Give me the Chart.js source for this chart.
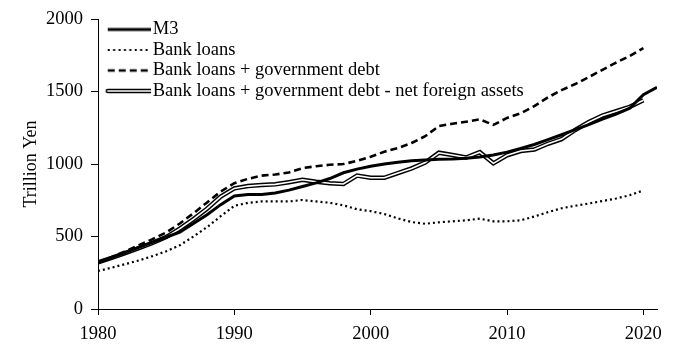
<!DOCTYPE html>
<html>
<head>
<meta charset="utf-8">
<script src="https://cdn.jsdelivr.net/npm/chart.js@4.4.1/dist/chart.umd.min.js"></script>
<style>
  html, body { margin: 0; padding: 0; background: #fff; }
  #wrap { width: 693px; height: 351px; }
</style>
</head>
<body>
<div id="wrap"><canvas id="chart"></canvas></div>
<script>
const years = [1980, 1981, 1982, 1983, 1984, 1985, 1986, 1987, 1988, 1989,
  1990, 1991, 1992, 1993, 1994, 1995, 1996, 1997, 1998, 1999,
  2000, 2001, 2002, 2003, 2004, 2005, 2006, 2007, 2008, 2009,
  2010, 2011, 2012, 2013, 2014, 2015, 2016, 2017, 2018, 2019,
  2020, 2021];

// trillion yen
const m3 = [320, 355, 390, 425, 460, 495, 530, 590, 650, 720,
  780, 790, 790, 800, 820, 845, 870, 900, 940, 965,
  985, 1000, 1012, 1022, 1028, 1033, 1035, 1040, 1048, 1062,
  1082, 1108, 1135, 1168, 1202, 1238, 1272, 1310, 1345, 1385,
  1478, 1530];

const bankLoans = [262, 285, 310, 335, 365, 398, 440, 500, 565, 640,
  712, 732, 742, 742, 742, 752, 742, 733, 715, 688,
  675, 655, 625, 600, 588, 598, 605, 612, 623, 605,
  605, 612, 638, 668, 695, 712, 728, 745, 762, 785,
  818];

const loansGov = [322, 358, 398, 440, 482, 528, 590, 660, 735, 810,
  868, 898, 920, 928, 942, 972, 985, 995, 1000, 1022,
  1050, 1085, 1110, 1145, 1192, 1262, 1278, 1292, 1308, 1270,
  1318, 1350, 1400, 1460, 1510, 1552, 1600, 1650, 1700, 1745,
  1800];

const loansGovNfa = [322, 352, 386, 420, 456, 496, 555, 620, 692, 775,
  832, 848, 855, 860, 875, 892, 878, 868, 862, 920,
  905, 905, 938, 970, 1010, 1078, 1062, 1045, 1082, 1005,
  1060, 1090, 1100, 1140, 1172, 1235, 1290, 1335, 1365, 1395,
  1440];

const seriesNames = [
  "M3",
  "Bank loans",
  "Bank loans + government debt",
  "Bank loans + government debt - net foreign assets"
];

const xTicks = [1980, 1990, 2000, 2010, 2020];
const yTicks = [0, 500, 1000, 1500, 2000];

const serif = "'Liberation Serif', 'Times New Roman', serif";

function pts(vals) {
  return vals.map((v, i) => ({ x: years[i], y: v }));
}

// little canvases used as legend keys
function key(draw) {
  const c = document.createElement("canvas");
  c.width = 58;
  c.height = 10;
  const g = c.getContext("2d");
  g.strokeStyle = "#000";
  draw(g);
  return c;
}
function seg(g) { g.beginPath(); g.moveTo(15, 5); g.lineTo(58, 5); g.stroke(); }
const keySolid = key(g => { g.lineWidth = 3; seg(g); });
const keyDot = key(g => { g.lineWidth = 2; g.setLineDash([2, 3.4]); seg(g); });
const keyDash = key(g => { g.lineWidth = 2.6; g.setLineDash([7, 4]); seg(g); });
const keyDouble = key(g => {
  g.lineWidth = 4.5; g.lineCap = "round"; seg(g);
  g.strokeStyle = "#fff"; g.lineWidth = 1.6; seg(g);
});

const base = { pointRadius: 0, tension: 0, fill: false, borderColor: "#000", backgroundColor: "#000" };

new Chart(document.getElementById("chart"), {
  type: "line",
  data: {
    datasets: [
      { ...base, label: seriesNames[0], data: pts(m3), borderWidth: 3, pointStyle: keySolid },
      { ...base, label: seriesNames[1], data: pts(bankLoans), borderWidth: 2.2, borderDash: [2, 3], pointStyle: keyDot },
      { ...base, label: seriesNames[2], data: pts(loansGov), borderWidth: 2.6, borderDash: [7, 4], pointStyle: keyDash },
      { ...base, label: "inner", data: pts(loansGovNfa), borderWidth: 1.6, borderColor: "#fff", pointStyle: keyDouble },
      { ...base, label: seriesNames[3], data: pts(loansGovNfa), borderWidth: 4.5, pointStyle: keyDouble }
    ]
  },
  options: {
    responsive: true,
    maintainAspectRatio: false,
    animation: false,
    layout: { padding: { left: 16, right: 36, top: 17, bottom: 0 } },
    plugins: {
      legend: {
        position: "chartArea",
        align: "start",
        // empty title just pushes the keys down inside the plot
        title: { display: true, text: " ", font: { size: 10, lineHeight: 1 }, padding: { top: 0, bottom: 8.2 } },
        labels: {
          usePointStyle: true,
          pointStyleWidth: 43.45,
          padding: 2,
          color: "#000",
          font: { family: serif, size: 18.5 },
          filter: item => item.text !== "inner"
        }
      },
      tooltip: { enabled: false }
    },
    scales: {
      x: {
        type: "linear",
        min: 1980,
        max: 2021,
        afterBuildTicks: axis => { axis.ticks = xTicks.map(v => ({ value: v })); },
        afterFit: axis => { axis.height = 42; },
        grid: { drawOnChartArea: false, drawTicks: true, tickLength: 6, color: "#000" },
        border: { display: true, color: "#000", width: 1 },
        ticks: {
          color: "#000",
          padding: 8,
          maxRotation: 0,
          font: { family: serif, size: 18.5 },
          callback: v => String(v)
        }
      },
      y: {
        min: 0,
        max: 2000,
        afterBuildTicks: axis => { axis.ticks = yTicks.map(v => ({ value: v })); },
        afterFit: axis => { axis.width = 82; },
        grid: { drawOnChartArea: false, drawTicks: true, tickLength: 7, color: "#000" },
        border: { display: true, color: "#000", width: 1 },
        title: {
          display: true,
          text: "Trillion Yen",
          color: "#000",
          font: { family: serif, size: 18 }
        },
        ticks: {
          color: "#000",
          padding: 8,
          font: { family: serif, size: 18.5 },
          callback: v => String(v)
        }
      }
    }
  }
});
</script>
</body>
</html>
